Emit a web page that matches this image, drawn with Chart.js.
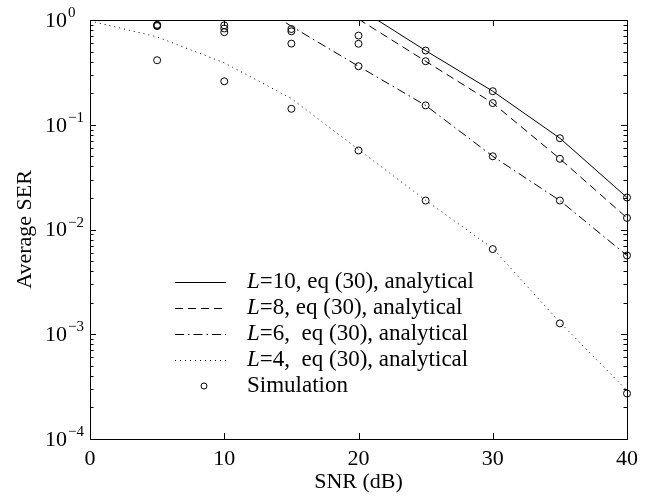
<!DOCTYPE html>
<html>
<head>
<meta charset="utf-8">
<script src="https://cdn.jsdelivr.net/npm/chart.js@4"></script>
<style>
  body { margin: 0; background: #fff; }
  #wrap { width: 663px; height: 497px; position: relative; }
</style>
</head>
<body>
<div id="wrap"><canvas id="myChart"></canvas></div>
<script>
// analytical curves, sampled every 5 dB (null = off the chart)
const snr = [0, 5, 10, 15, 20, 25, 30, 35, 40];
const serL10 = [null, null, null, null, 1.3, 0.51, 0.209, 0.0744, 0.0202];
const serL8 = [null, null, null, null, 1.02, 0.404, 0.161, 0.0473, 0.0129];
const serL6 = [null, null, 2.3, 0.87, 0.362, 0.153, 0.050, 0.0189, 0.00565];
const serL4 = [0.98, 0.69, 0.39, 0.178, 0.058, 0.019, 0.0066, 0.0013, 0.00029];

// simulation points
const snrSim = [5, 10, 15, 20, 25, 30, 35, 40];
const simL10 = [0.90, 0.89, 0.82, 0.71, 0.511, 0.209, 0.0744, 0.0202];
const simL8 = [0.885, 0.83, 0.78, 0.593, 0.404, 0.161, 0.0473, 0.0129];
const simL6 = [0.875, 0.765, 0.595, 0.362, 0.153, 0.050, 0.0189, 0.00565];
const simL4 = [0.413, 0.26, 0.142, 0.0568, 0.0189, 0.0065, 0.00127, 0.000272];

const xTicks = [0, 10, 20, 30, 40];
const yExponents = [0, -1, -2, -3, -4];
const legendLabels = ['=10, eq (30), analytical', '=8, eq (30), analytical',
  '=6,  eq (30), analytical', '=4,  eq (30), analytical', 'Simulation'];

const serif = '"Liberation Serif", "Times New Roman", serif';

function pts(xs, ys) {
  return xs.map((x, i) => ({ x: x, y: ys[i] })).filter(p => p.y !== null);
}

function lineSet(label, ys, dash) {
  return {
    label: label,
    data: pts(snr, ys),
    showLine: true,
    borderColor: '#000',
    borderWidth: 1,
    borderDash: dash,
    pointRadius: 0,
    clip: 0
  };
}

const simData = [].concat(pts(snrSim, simL10), pts(snrSim, simL8), pts(snrSim, simL6), pts(snrSim, simL4));

const axesPlugin = {
  id: 'matlabAxes',
  afterDraw(chart) {
    const ctx = chart.ctx;
    const a = chart.chartArea;
    const xs = chart.scales.x, ys = chart.scales.y;
    ctx.save();
    ctx.strokeStyle = '#000';
    ctx.fillStyle = '#000';
    ctx.lineWidth = 1;

    // box
    ctx.strokeRect(Math.round(a.left) + 0.5, Math.round(a.top) + 0.5,
      Math.round(a.right - a.left), Math.round(a.bottom - a.top));

    // x ticks, inward top and bottom
    ctx.beginPath();
    xTicks.forEach(v => {
      const px = Math.round(xs.getPixelForValue(v)) + 0.5;
      ctx.moveTo(px, a.bottom); ctx.lineTo(px, a.bottom - 6);
      ctx.moveTo(px, a.top); ctx.lineTo(px, a.top + 6);
    });
    // y ticks, major and minor, left and right
    yExponents.forEach(e => {
      const py = Math.round(ys.getPixelForValue(Math.pow(10, e))) + 0.5;
      ctx.moveTo(a.left, py); ctx.lineTo(a.left + 6, py);
      ctx.moveTo(a.right, py); ctx.lineTo(a.right - 6, py);
      if (e > -4) {
        for (let k = 2; k <= 9; k++) {
          const my = Math.round(ys.getPixelForValue(k * Math.pow(10, e - 1))) + 0.5;
          ctx.moveTo(a.left, my); ctx.lineTo(a.left + 3.5, my);
          ctx.moveTo(a.right, my); ctx.lineTo(a.right - 3.5, my);
        }
      }
    });
    ctx.stroke();

    // x tick labels
    ctx.font = '22px ' + serif;
    ctx.textAlign = 'center';
    ctx.textBaseline = 'middle';
    xTicks.forEach(v => {
      ctx.fillText(String(v), xs.getPixelForValue(v), 459);
    });

    // y tick labels 10^e
    yExponents.forEach(e => {
      const py = ys.getPixelForValue(Math.pow(10, e));
      ctx.font = '22px ' + serif;
      ctx.textAlign = 'right';
      ctx.textBaseline = 'middle';
      ctx.fillText('10', a.left - 23, py + 1);
      ctx.font = '15px ' + serif;
      ctx.textAlign = 'left';
      ctx.textBaseline = 'alphabetic';
      ctx.fillText(e < 0 ? '\u2212' + (-e) : String(e), a.left - 22, py - 3);
    });

    // axis titles
    ctx.font = '22px ' + serif;
    ctx.textAlign = 'center';
    ctx.textBaseline = 'middle';
    ctx.fillText('SNR (dB)', (a.left + a.right) / 2, 482);
    ctx.save();
    ctx.translate(25, (a.top + a.bottom) / 2);
    ctx.rotate(-Math.PI / 2);
    ctx.fillText('Average SER', 0, 0);
    ctx.restore();

    // legend inside the axes
    const sets = chart.data.datasets;
    legendLabels.forEach((txt, i) => {
      const y = 282 + i * 26;
      const ds = sets[i];
      if (i < 4) {
        ctx.save();
        ctx.setLineDash(ds.borderDash);
        ctx.beginPath();
        ctx.moveTo(175, y + 0.5); ctx.lineTo(226, y + 0.5);
        ctx.stroke();
        ctx.restore();
        ctx.textAlign = 'left';
        ctx.textBaseline = 'middle';
        ctx.font = 'italic 23px ' + serif;
        ctx.fillText('L', 247, y);
        const w = ctx.measureText('L').width;
        ctx.font = '23px ' + serif;
        ctx.fillText(txt, 247 + w, y);
      } else {
        ctx.beginPath();
        ctx.arc(204, y, 3, 0, Math.PI * 2);
        ctx.stroke();
        ctx.textAlign = 'left';
        ctx.textBaseline = 'middle';
        ctx.font = '23px ' + serif;
        ctx.fillText(txt, 247, y);
      }
    });
    ctx.restore();
  }
};

const ctx = document.getElementById('myChart').getContext('2d');
const chart = new Chart(ctx, {
  type: 'scatter',
  data: {
    datasets: [
      lineSet('L=10', serL10, []),
      lineSet('L=8', serL8, [8, 5]),
      lineSet('L=6', serL6, [9, 4, 1.5, 4]),
      lineSet('L=4', serL4, [1, 4]),
      {
        label: 'Simulation',
        data: simData,
        showLine: false,
        pointStyle: 'circle',
        pointRadius: 3.5,
        pointBorderWidth: 1,
        borderColor: '#000',
        backgroundColor: 'rgba(0,0,0,0)',
        clip: 6
      }
    ]
  },
  options: {
    responsive: true,
    maintainAspectRatio: false,
    animation: false,
    layout: { padding: { left: 90, top: 20, right: 36, bottom: 58 } },
    plugins: { legend: { display: false }, tooltip: { enabled: false } },
    scales: {
      x: { type: 'linear', min: 0, max: 40, display: false },
      y: { type: 'logarithmic', min: 0.0001, max: 1, display: false }
    }
  },
  plugins: [axesPlugin]
});
</script>
</body>
</html>
